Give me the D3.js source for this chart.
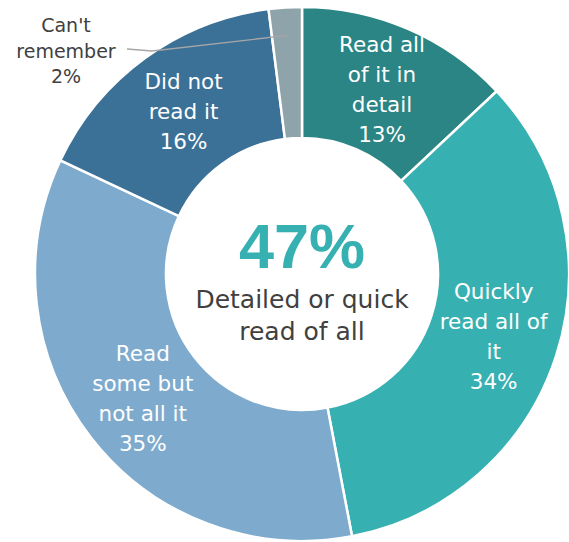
<!DOCTYPE html>
<html><head><meta charset="utf-8">
<script src="https://cdn.jsdelivr.net/npm/d3@7"></script>
<style>html,body{margin:0;padding:0;background:#fff;}</style>
</head><body>
<svg id="c" width="569" height="542"></svg>
<script>
const categories = ["Read all of it in detail", "Quickly read all of it", "Read some but not all it", "Did not read it", "Can't remember"];
const values = [13, 34, 35, 16, 2];
const labelLines = [["Read all", "of it in", "detail"], ["Quickly", "read all of", "it"], ["Read", "some but", "not all it"], ["Did not", "read it"], ["Can't", "remember"]];
const colors = ["#2b8584", "#37b0b2", "#7eabcd", "#3b7197", "#8ea3aa"];
const centerValue = "47%";
const centerText = ["Detailed or quick", "read of all"];

const svg = d3.select("#c");
const cx = 302, cy = 274, R = 267, r = 136;
const font = "'DejaVu Sans', sans-serif";
const g = svg.append("g").attr("transform", `translate(${cx},${cy})`);
const data = categories.map((c, i) => ({c, v: values[i], lines: labelLines[i], color: colors[i]}));
const pie = d3.pie().value(d => d.v).sort(null);
const arc = d3.arc().innerRadius(r).outerRadius(R);
const arcs = pie(data);
g.selectAll("path").data(arcs).join("path")
  .attr("d", arc).attr("fill", d => d.data.color)
  .attr("stroke", "#fff").attr("stroke-width", 2.5);

const lh = 30;
arcs.forEach((a, i) => {
  if (i === 4) return;
  const [x, y] = arc.centroid(a);
  const lines = a.data.lines.concat([a.data.v + "%"]);
  const t = g.append("text").attr("text-anchor", "middle").attr("fill", "#fff")
    .attr("font-family", font).attr("font-size", 21.5);
  lines.forEach((l, k) => {
    t.append("tspan").attr("x", x).attr("y", y + (k - (lines.length - 1) / 2) * lh + 8).text(l);
  });
});

// Can't remember label, outside
const last = arcs[4];
const ang = (last.startAngle + last.endAngle) / 2;
const pR = R - 28;
const px = Math.sin(ang) * pR, py = -Math.cos(ang) * pR;
const lx = 66 - cx, ly = 25 - cy;
g.append("polyline")
  .attr("points", [[127 - cx, 49 - cy], [152 - cx, 51 - cy], [px, py]].map(p => p.join(",")).join(" "))
  .attr("fill", "none").attr("stroke", "#a6a6a6").attr("stroke-width", 1.3);
const t2 = g.append("text").attr("text-anchor", "middle").attr("fill", "#404040")
  .attr("font-family", font).attr("font-size", 19);
last.data.lines.concat([last.data.v + "%"]).forEach((l, k) => {
  t2.append("tspan").attr("x", lx).attr("y", ly + k * 25.5 + 7).text(l);
});

// center
g.append("text").attr("text-anchor", "middle").attr("fill", "#37b0b2")
  .attr("font-family", "'Liberation Sans', Arial, sans-serif").attr("font-weight", "bold")
  .attr("font-size", 63).attr("y", -6).text(centerValue);
const t3 = g.append("text").attr("text-anchor", "middle").attr("fill", "#404040")
  .attr("font-family", font).attr("font-size", 25);
centerText.forEach((l, k) => t3.append("tspan").attr("x", 0).attr("y", 34 + k * 32).text(l));
</script>
</body></html>
